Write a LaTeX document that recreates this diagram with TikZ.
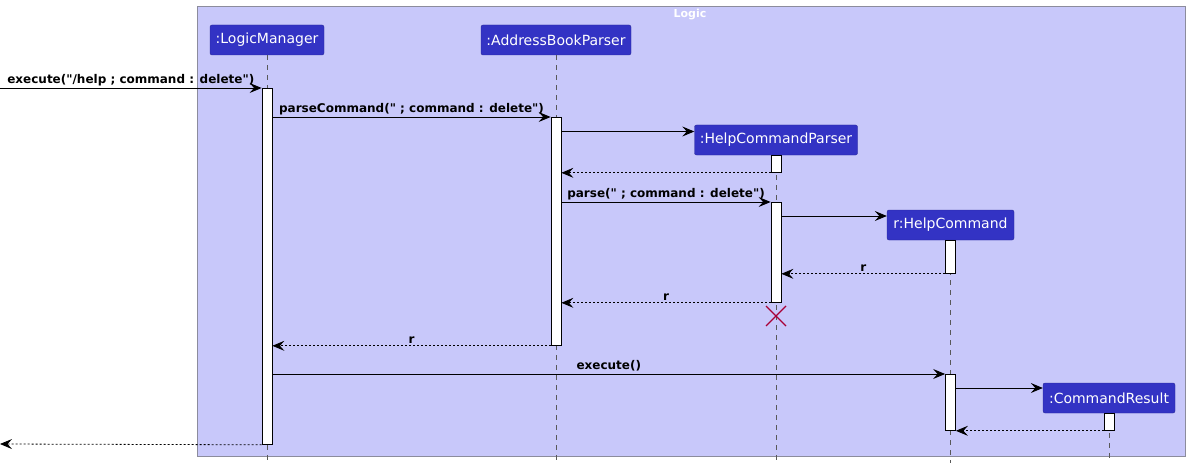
\documentclass[tikz,border=0pt]{standalone}
\usepackage{fontspec}
\setmainfont{DejaVu Sans}[Ligatures=TeXOff]
\usepackage{tikz}
\usetikzlibrary{arrows.meta,shapes,positioning,calc}
\definecolor{logicbg}{HTML}{C8C8FA}
\definecolor{logicfg}{HTML}{3333C4}
\definecolor{logicline}{HTML}{2A2A9A}
\definecolor{frameline}{HTML}{8C8C9C}
\definecolor{killred}{HTML}{A80036}
\begin{document}
\begin{tikzpicture}[x=1pt,y=-1pt]
\tikzstyle{Participant}=[draw=logicline, fill=logicfg, rounded corners=2pt, text=white, minimum height=30pt, inner sep=0pt, font=\fontsize{14}{16}\selectfont]
\tikzstyle{Bar}=[draw=black, fill=white, line width=0.8pt, minimum width=10pt, inner sep=0pt, anchor=north]
\tikzstyle{Life}=[gray!70!black, dash pattern=on 5pt off 5pt, line width=0.6pt]
\tikzstyle{Msg}=[black, line width=0.9pt, -{Stealth[length=12pt,width=10pt,inset=4.5pt]}]
\tikzstyle{Ret}=[black, line width=0.8pt, dash pattern=on 2pt off 2pt, -{Stealth[length=12pt,width=10pt,inset=4.5pt]}]
\tikzstyle{MsgText}=[above=1pt, inner sep=1pt, font=\bfseries\fontsize{12}{14}\selectfont]

\useasboundingbox (0,0) rectangle (1193,468);

\draw[frameline, fill=logicbg, line width=0.8pt] (197,6) rectangle (1185,456);
\node[text=white, font=\bfseries\fontsize{11}{13}\selectfont] (title) at (690,15) {Logic};

\node[Participant, minimum width=114pt] (lm) at (267,40) {:LogicManager};
\node[Participant, minimum width=150pt] (abp) at (556,40) {:AddressBookParser};
\node[Participant, minimum width=163pt] (hcp) at (776,140) {:HelpCommandParser};
\node[Participant, minimum width=127pt] (hc) at (950.5,225) {r:HelpCommand};
\node[Participant, minimum width=132pt] (cr) at (1109,398) {:CommandResult};

\coordinate (bottom) at (0,463);
\draw[Life] (lm.south) -- (lm.south |- bottom);
\draw[Life] (abp.south) -- (abp.south |- bottom);
\draw[Life] (hcp.south) -- (hcp.south |- bottom);
\draw[Life] (hc.south) -- (hc.south |- bottom);
\draw[Life] (cr.south) -- (cr.south |- bottom);

\node[Bar, minimum height=356pt] (lm1) at (267,88) {};
\node[Bar, minimum height=228pt] (abp1) at (556,117) {};
\node[Bar, minimum height=17pt] (hcp1) at (776,155) {};
\node[Bar, minimum height=100pt] (hcp2) at (776,202) {};
\node[Bar, minimum height=33pt] (hc1) at (950.5,240) {};
\node[Bar, minimum height=56pt] (hc2) at (950.5,374) {};
\node[Bar, minimum height=17pt] (cr1) at (1109,413) {};

\coordinate (in) at (0,88);
\coordinate (out) at (0,444);
\coordinate (y1) at (0,131.5);
\coordinate (y2) at (0,216);
\coordinate (y3) at (0,388);

\draw[Msg] (in) -- node[MsgText] {execute("/help ; command : delete")} (lm1.north west);
\draw[Msg] (lm1.east |- abp1.north) -- node[MsgText] {parseCommand(" ; command : delete")} (abp1.north west);
\draw[Msg] (abp1.east |- y1) -- (hcp.west |- y1);
\draw[Ret] (hcp1.south west) -- (abp1.east |- hcp1.south);
\draw[Msg] (abp1.east |- hcp2.north) -- node[MsgText] {parse(" ; command : delete")} (hcp2.north west);
\draw[Msg] (hcp2.east |- y2) -- (hc.west |- y2);
\draw[Ret] (hc1.south west) -- node[MsgText] {r} (hcp2.east |- hc1.south);
\draw[Ret] (hcp2.south west) -- node[MsgText] {r} (abp1.east |- hcp2.south);
\draw[Ret] (abp1.south west) -- node[MsgText] {r} (lm1.east |- abp1.south);
\draw[Msg] (lm1.east |- hc2.north) -- node[MsgText] {execute()} (hc2.north west);
\draw[Msg] (hc2.east |- y3) -- (cr.west |- y3);
\draw[Ret] (cr1.south west) -- (hc2.south east);
\draw[Ret] (lm1.south west) -- (out);

\coordinate (kill) at (776,316);
\draw[killred, line width=1.2pt] ($(kill)+(-10,-10)$) -- ($(kill)+(10,10)$);
\draw[killred, line width=1.2pt] ($(kill)+(-10,10)$) -- ($(kill)+(10,-10)$);
\end{tikzpicture}
\end{document}
